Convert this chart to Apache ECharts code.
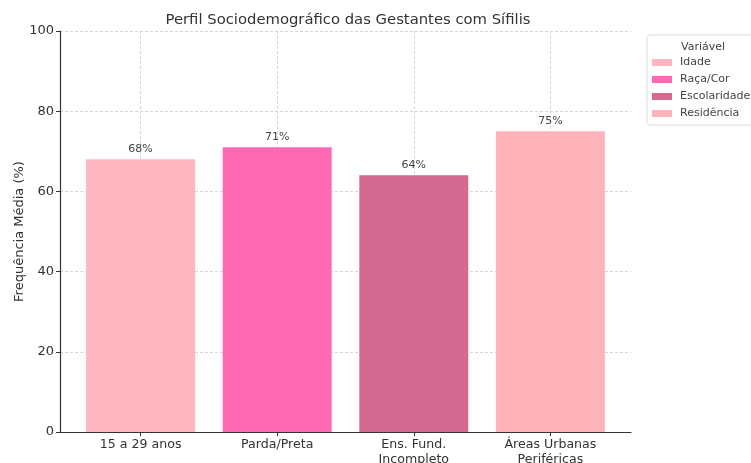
<!DOCTYPE html>
<html><head><meta charset="utf-8">
<script src="https://cdn.jsdelivr.net/npm/echarts@6/dist/echarts.min.js"></script>
<style>html,body{margin:0;padding:0;background:#fff}#c{width:751px;height:463px}</style>
</head><body><div id="c"></div>
<script>
var categories = ['15 a 29 anos', 'Parda/Preta', 'Ens. Fund.\nIncompleto', 'Áreas Urbanas\nPeriféricas'];
var seriesNames = ['Idade', 'Raça/Cor', 'Escolaridade', 'Residência'];
var values = [68, 71, 64, 75];
var colors = ['#FFB6C1', '#FF69B4', '#D56A90', '#FFB3BA'];
var yTicks = [0, 20, 40, 60, 80, 100];

var chart = echarts.init(document.getElementById('c'));
var font = 'DejaVu Sans';
var series = seriesNames.map(function (n, i) {
  return {
    name: n, type: 'bar', stack: 'all', barWidth: 109,
    itemStyle: { color: colors[i] },
    data: [[i, values[i]]],
    label: { show: true, position: 'top', distance: 5, formatter: function (p) { return p.value[1] + '%'; },
      color: '#444', fontFamily: font, fontSize: 11 }
  };
});
chart.setOption({
  animation: false,
  textStyle: { fontFamily: font },
  title: [
    { text: 'Perfil Sociodemográfico das Gestantes com Sífilis', left: 343, top: 8, textAlign: 'center',
      textStyle: { fontFamily: font, fontSize: 14.8, fontWeight: 'normal', color: '#333' } },
    { text: 'Variável', left: 698, top: 37, textAlign: 'center',
      textStyle: { fontFamily: font, fontSize: 11, fontWeight: 'normal', color: '#444' } }
  ],
  legend: {
    orient: 'vertical', left: 647, top: 35, width: 90,
    padding: [22, 4, 6, 5], itemGap: 6,
    borderColor: '#ddd', borderWidth: 1, borderRadius: 3,
    itemWidth: 20, itemHeight: 7, icon: 'rect',
    textStyle: { fontFamily: font, fontSize: 11, color: '#444', padding: [0, 0, 0, 3] },
    data: seriesNames
  },
  grid: { left: 60, right: 120, top: 31, bottom: 31, containLabel: false, outerBoundsMode: 'none' },
  xAxis: {
    type: 'value', min: -0.59, max: 3.59,
    axisLine: { show: true, onZero: false, lineStyle: { color: '#333', width: 1.2 } },
    axisTick: { show: true, customValues: [0, 1, 2, 3], length: 4, lineStyle: { color: '#333' } },
    axisLabel: { customValues: [0, 1, 2, 3], formatter: function (v) { return categories[Math.round(v)]; },
      color: '#333', fontFamily: font, fontSize: 12.6, margin: 5, lineHeight: 15 },
    splitLine: { show: true, lineStyle: { color: '#ccc', type: [3, 2], width: 0.8 } }
  },
  yAxis: {
    type: 'value', min: 0, max: 100, interval: 20,
    name: 'Frequência Média (%)', nameLocation: 'middle', nameGap: 34, nameMoveOverlap: false,
    nameTextStyle: { fontFamily: font, fontSize: 13, color: '#333' },
    axisLine: { show: true, onZero: false, lineStyle: { color: '#333', width: 1.2 } },
    axisTick: { show: true, length: 4, lineStyle: { color: '#333' } },
    axisLabel: { color: '#333', fontFamily: font, fontSize: 13, margin: 6 },
    splitLine: { show: true, lineStyle: { color: '#ccc', type: [3, 2], width: 0.8 } }
  },
  series: series
});
</script></body></html>
